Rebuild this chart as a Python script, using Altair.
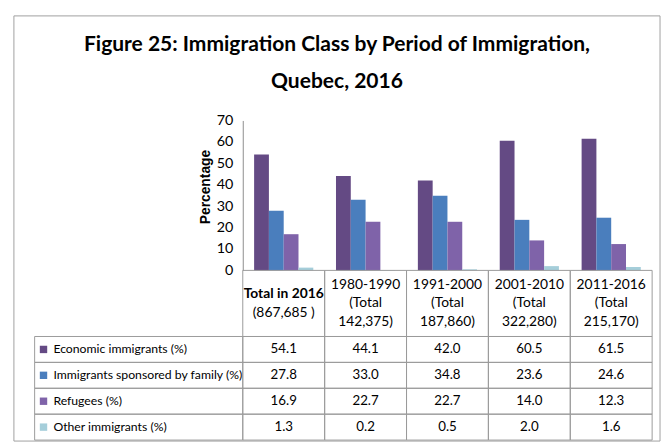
import altair as alt
import pandas as pd

# ---------------- data ----------------
periods = ["Total in 2016", "1980-1990", "1991-2000", "2001-2010", "2011-2016"]
header_rest = ["(867,685 )", "(Total\n142,375)", "(Total\n187,860)", "(Total\n322,280)", "(Total\n215,170)"]
series = [
    "Economic immigrants (%)",
    "Immigrants sponsored by family (%)",
    "Refugees (%)",
    "Other immigrants (%)",
]
colors = ["#644A84", "#4A7EBD", "#7F63A9", "#A5CEDA"]
economic = [54.1, 44.1, 42.0, 60.5, 61.5]
family = [27.8, 33.0, 34.8, 23.6, 24.6]
refugees = [16.9, 22.7, 22.7, 14.0, 12.3]
other = [1.3, 0.2, 0.5, 2.0, 1.6]
y_ticks = [0, 10, 20, 30, 40, 50, 60, 70]
title_lines = ["Figure 25: Immigration Class by Period of Immigration,", "Quebec, 2016"]

rows = []
for s, vals in zip(series, [economic, family, refugees, other]):
    for p, v in zip(periods, vals):
        rows.append({"period": p, "series": s, "value": v})
df = pd.DataFrame(rows)
hdr_df = pd.DataFrame({"period": periods, "first": periods, "rest": header_rest})
leg_df = pd.DataFrame({"series": series})
blank = pd.DataFrame({"k": [0]})

# ---------------- style ----------------
FONT = "Lato, Liberation Sans, sans-serif"
LINE = "#9a9a9a"
FRAME = "#a0a0a0"
FIRST = "datum.period == 'Total in 2016'"

period_scale = alt.Scale(domain=periods, paddingInner=0, paddingOuter=0)
series_scale = alt.Scale(domain=series, paddingInner=0, paddingOuter=0)
color_scale = alt.Scale(domain=series, range=colors)

# ---------------- bar chart ----------------
bars = alt.Chart(df).mark_bar().encode(
    x=alt.X("period:N", sort=periods, scale=period_scale, axis=None),
    xOffset=alt.XOffset("series:N", sort=series,
                        scale=alt.Scale(domain=series, paddingInner=0, paddingOuter=0.767)),
    y=alt.Y("value:Q", scale=alt.Scale(domain=[0, 70], nice=False),
            axis=alt.Axis(values=y_ticks, title="Percentage", grid=False, ticks=False,
                          domainColor="#8c8c8c", labelFont=FONT, labelFontSize=14.5,
                          labelColor="#000", labelPadding=10,
                          titleFont="Liberation Sans", titleFontSize=14,
                          titleFontWeight="bold", titleColor="#000", titlePadding=4,
                          titleY=67)),
    color=alt.Color("series:N", scale=color_scale, legend=None),
).properties(width=415, height=152)

# ---------------- table: header ----------------
xcell = alt.X("period:N", sort=periods, scale=period_scale, axis=None)
hdr_base = alt.Chart(hdr_df).encode(x=xcell)
hdr = alt.layer(
    hdr_base.mark_rect(fill="transparent", stroke=LINE, strokeWidth=1),
    hdr_base.transform_filter(FIRST).mark_text(
        font=FONT, fontSize=14, fontWeight="bold", color="#000", dy=-9.5).encode(text="first:N"),
    hdr_base.transform_filter(FIRST).mark_text(
        font=FONT, fontSize=14, color="#000", dy=9.5).encode(text="rest:N"),
    hdr_base.transform_filter("!(" + FIRST + ")").mark_text(
        font=FONT, fontSize=14, color="#000", dy=-19).encode(text="first:N"),
    hdr_base.transform_filter("!(" + FIRST + ")").mark_text(
        lineBreak="\n", lineHeight=19, font=FONT, fontSize=14, color="#000").encode(text="rest:N"),
).properties(width=415, height=67)

# ---------------- table: body ----------------
ycell = alt.Y("series:N", sort=series, scale=series_scale, axis=None)
body_base = alt.Chart(df).encode(x=xcell, y=ycell)
body = alt.layer(
    body_base.mark_rect(fill="transparent", stroke=LINE, strokeWidth=1),
    body_base.mark_text(font=FONT, fontSize=13.5, color="#000").encode(
        text=alt.Text("value:Q", format=".1f")),
).properties(width=415, height=105)

# ---------------- table: legend column ----------------
leg_base = alt.Chart(leg_df).encode(y=ycell)
leg = alt.layer(
    leg_base.mark_rect(fill="transparent", stroke=LINE, strokeWidth=1),
    leg_base.mark_square(size=56, opacity=1).encode(
        x=alt.value(9), color=alt.Color("series:N", scale=color_scale, legend=None)),
    leg_base.mark_text(align="left", font=FONT, fontSize=12.4, color="#000").encode(
        x=alt.value(19), text="series:N"),
).properties(width=211, height=105)

# ---------------- frame + spacer ----------------
frame = alt.Chart(blank).mark_rect(fill="transparent", stroke=FRAME, strokeWidth=1).encode(
    x=alt.value(-21), x2=alt.value(634), y=alt.value(-106), y2=alt.value(325)
).properties(width=211, height=152)
spacer = alt.Chart(blank).mark_point(opacity=0).encode(
    x=alt.value(0), y=alt.value(0)).properties(width=211, height=67)

chart = alt.concat(
    frame, bars, spacer, hdr, leg, body, columns=2, spacing=0, bounds="flush"
).properties(
    title=alt.Title(title_lines, font=FONT, fontSize=21.3, fontWeight="bold",
                    anchor="middle", frame="bounds", offset=-78, lineHeight=38, color="#000"),
    padding={"left": 5, "top": 4, "right": 1, "bottom": 1},
    background="white",
).configure_view(stroke=None)

chart.save("out.html", embed_options={"renderer": "svg", "actions": False})
